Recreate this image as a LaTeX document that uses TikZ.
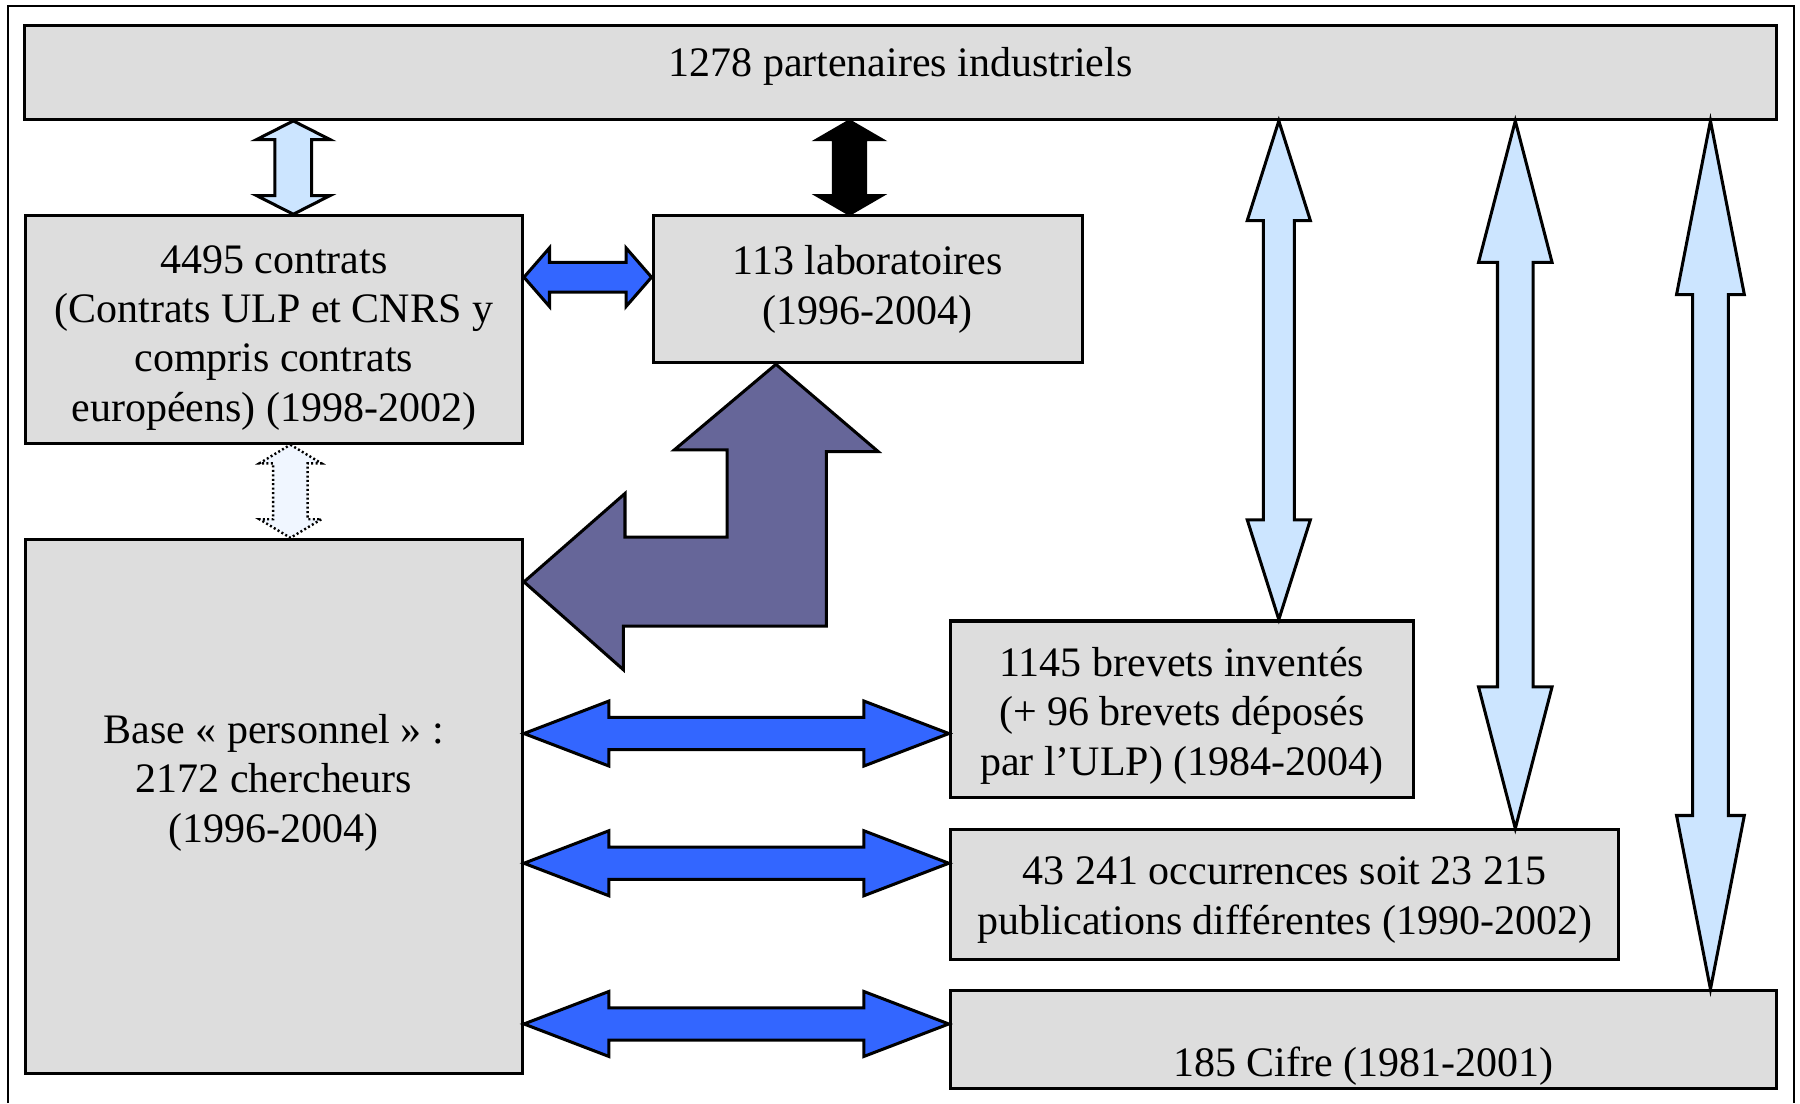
\documentclass[tikz,border=0pt]{standalone}
\usepackage{fontspec}
\setmainfont{Liberation Serif}
\usetikzlibrary{calc}

\definecolor{boxgray}{HTML}{DDDDDD}
\definecolor{paleblue}{HTML}{CCE5FF}
\definecolor{vividblue}{HTML}{3366FF}
\definecolor{slateblue}{HTML}{666699}
\definecolor{ghostblue}{HTML}{F0F6FF}

% double block arrow: #2 from, #3 to, #4 half head width, #5 half shaft width
\newcommand{\blockarrow}[5][]{%
  \draw[line width=0.75pt, #1] (#2)
    -- ($(#2)!0.2!(#3)!#4!90:(#3)$)
    -- ($(#2)!0.2!(#3)!#5!90:(#3)$)
    -- ($(#3)!0.2!(#2)!#5!-90:(#2)$)
    -- ($(#3)!0.2!(#2)!#4!-90:(#2)$)
    -- (#3)
    -- ($(#3)!0.2!(#2)!#4!90:(#2)$)
    -- ($(#3)!0.2!(#2)!#5!90:(#2)$)
    -- ($(#2)!0.2!(#3)!#5!-90:(#3)$)
    -- ($(#2)!0.2!(#3)!#4!-90:(#3)$)
    -- cycle;
}

\begin{document}
\begin{tikzpicture}[x=0.01cm, y=-0.01cm,
  box/.style={draw, fill=boxgray, line width=0.75pt, inner sep=0pt, align=center,
    font=\fontsize{10.4}{12.25}\selectfont}]

\useasboundingbox (0,0) rectangle (1568,961);

% Outer frame
\draw[line width=0.5pt] (7,961) -- (7,5) -- (1563,5) -- (1563,961);

% Boxes
\node[box, minimum width=15.25cm, minimum height=0.82cm, text depth=5.1pt] (industriels) at (784.5,63) {1278 partenaires industriels};
\node[box, minimum width=4.33cm, minimum height=1.98cm] (contrats) at (238.5,287) {\rule{0pt}{11pt}4495 contrats\\(Contrats ULP et CNRS y\\compris contrats\\européens) (1998-2002)};
\node[box, minimum width=3.74cm, minimum height=1.28cm] (labos) at (756,252) {113 laboratoires\\(1996-2004)};
\node[box, minimum width=4.33cm, minimum height=4.65cm] (personnel) at (238.5,702.5) {Base « personnel » :\\2172 chercheurs\\(1996-2004)\\[1.7pt]~};
\node[box, minimum width=4.03cm, minimum height=1.54cm] (brevets) at (1029.5,618) {\rule{0pt}{10.2pt}1145 brevets inventés\\(+ 96 brevets déposés\\par l’ULP) (1984-2004)};
\node[box, minimum width=5.82cm, minimum height=1.13cm] (publis) at (1119,779.5) {\rule{0pt}{9.4pt}43 241 occurrences soit 23 215\\publications différentes (1990-2002)};
\node[box, minimum width=7.19cm, minimum height=0.85cm] (cifre) at (1187.5,905.5) {~\\[8.5pt]185 Cifre (1981-2001)};

% Industriels <-> contrats, industriels <-> laboratoires
\coordinate (va) at (255.5,0);
\blockarrow[fill=paleblue]{industriels.south -| va}{contrats.north -| va}{0.32cm}{0.16cm}
\coordinate (vb) at (740,0);
\blockarrow[fill=black]{industriels.south -| vb}{labos.north -| vb}{0.28cm}{0.14cm}

% Contrats <-> laboratoires
\coordinate (hc) at (0,241.5);
\blockarrow[fill=vividblue]{contrats.east |- hc}{labos.west |- hc}{0.255cm}{0.13cm}

% Contrats <-> personnel (dotted)
\coordinate (vd) at (253,0);
\blockarrow[fill=ghostblue, line width=0.6pt, dash pattern=on 0.5pt off 0.6pt]{contrats.south -| vd}{personnel.north -| vd}{0.27cm}{0.15cm}

% Laboratoires -> personnel
\coordinate (bt) at ([xshift=-0.8cm]labos.south);
\coordinate (bl) at ([yshift=1.955cm]personnel.east);
\draw[line width=0.75pt, fill=slateblue] (bt) -- ++(89,76) -- ++(-45,0) -- ++(0,152) -- ++(-177,0) -- ++(0,38)
  -- (bl) -- ++(88,-77) -- ++(0,38) -- ++(89,0) -- ++(0,-76) -- ++(-46,0) -- cycle;

% Industriels <-> brevets, publications, Cifre
\foreach \x/\tgt/\hw/\sw in {1114/brevets/0.275cm/0.135cm, 1320/publis/0.32cm/0.155cm, 1490/cifre/0.295cm/0.155cm} {
  \coordinate (v) at (\x,0);
  \blockarrow[fill=paleblue]{industriels.south -| v}{\tgt.north -| v}{\hw}{\sw}
}

% Personnel <-> brevets, publications, Cifre
\foreach \y/\tgt in {639/brevets, 752/publis, 892/cifre} {
  \coordinate (h) at (0,\y);
  \blockarrow[fill=vividblue]{personnel.east |- h}{\tgt.west |- h}{0.283cm}{0.141cm}
}

\end{tikzpicture}
\end{document}
